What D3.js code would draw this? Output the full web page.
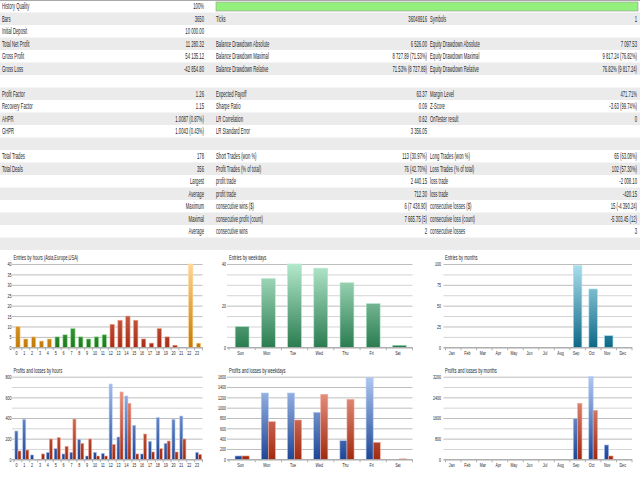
<!DOCTYPE html>
<html lang="en">
<head>
<meta charset="UTF-8" />
<title>Strategy Tester Report</title>
<style>
  body { margin: 0; background: #fff; overflow: hidden; }
  svg text { font-family: "Liberation Sans", Arial, sans-serif; fill: #262626; }
</style>
</head>
<body>
<svg id="report" width="640" height="480"></svg>
<script src="https://d3js.org/d3.v7.min.js"></script>
<script>
// report table, 3 label/value pairs per row
var tableRows = [
  ["History Quality", "100%", "", "", "", ""],
  ["Bars", "3650", "Ticks", "36048916", "Symbols", "1"],
  ["Initial Deposit", "10 000.00", "", "", "", ""],
  ["Total Net Profit", "11 280.32", "Balance Drawdown Absolute", "6 526.00", "Equity Drawdown Absolute", "7 097.53"],
  ["Gross Profit", "54 135.12", "Balance Drawdown Maximal", "8 727.89 (71.53%)", "Equity Drawdown Maximal", "9 817.24 (76.82%)"],
  ["Gross Loss", "-42 854.80", "Balance Drawdown Relative", "71.53% (8 727.89)", "Equity Drawdown Relative", "76.82% (9 817.24)"],
  ["", "", "", "", "", ""],
  ["Profit Factor", "1.26", "Expected Payoff", "63.37", "Margin Level", "471.71%"],
  ["Recovery Factor", "1.15", "Sharpe Ratio", "0.09", "Z-Score", "-3.63 (99.74%)"],
  ["AHPR", "1.0087 (0.87%)", "LR Correlation", "0.62", "OnTester result", "0"],
  ["GHPR", "1.0043 (0.43%)", "LR Standard Error", "3 356.05", "", ""],
  ["", "", "", "", "", ""],
  ["Total Trades", "178", "Short Trades (won %)", "113 (30.97%)", "Long Trades (won %)", "65 (63.08%)"],
  ["Total Deals", "356", "Profit Trades (% of total)", "76 (42.70%)", "Loss Trades (% of total)", "102 (57.30%)"],
  ["Largest", "", "profit trade", "2 440.15", "loss trade", "-2 008.10"],
  ["Average", "", "profit trade", "712.30", "loss trade", "-420.15"],
  ["Maximum", "", "consecutive wins ($)", "6 (7 438.90)", "consecutive losses ($)", "15 (-4 390.24)"],
  ["Maximal", "", "consecutive profit (count)", "7 665.75 (5)", "consecutive loss (count)", "-5 303.45 (12)"],
  ["Average", "", "consecutive wins", "2", "consecutive losses", "3"],
  ["", "", "", "", "", ""]
];
var historyQuality = 100;

var hourLabels = ["0","1","2","3","4","5","6","7","8","9","10","11","12","13","14","15","16","17","18","19","20","21","22","23"];
var hourSession = ["asia","asia","asia","asia","asia","europe","europe","europe","europe","europe","europe","europe",
  "usa","usa","usa","usa","usa","usa","usa","usa","usa","usa","asia","asia"];
var hourEntries = [10,4,5,3,4,5,6,9,5,4,5,6,11,13,15,13,4,2,9,5,1,0,40,2];
var hourProfits = [274,387,42,0,68,103,52,68,194,32,68,58,729,216,613,329,52,174,403,155,387,419,0,68];
var hourLosses = [81,90,0,52,197,210,126,390,155,197,32,32,145,652,542,52,245,71,103,177,71,197,0,48];

var dayLabels = ["Sun","Mon","Tue","Wed","Thu","Fri","Sat"];
var dayEntries = [10,33,40,38,31,21,1];
var dayProfits = [65,1284,1284,910,361,1580,0];
var dayLosses = [65,729,761,1258,1161,329,8];

var monthLabels = ["Jan","Feb","Mar","Apr","May","Jun","Jul","Aug","Sep","Oct","Nov","Dec"];
var monthEntries = [0,0,0,0,0,0,0,0,98,70,14,0];
var monthProfits = [0,0,0,0,0,0,0,0,1587,3200,555,0];
var monthLosses = [0,0,0,0,0,0,0,0,2168,1897,129,0];

// light top / dark bottom
var palette = {
  asia: ["#ffd796", "#c27a04"],
  europe: ["#98e098", "#1c7a1c"],
  usa: ["#f2a08e", "#a82c14"],
  week: ["#b4e8cc", "#2a7c50"],
  month: ["#ace0ee", "#0e6886"],
  profit: ["#b0c8f2", "#1d4696"],
  loss: ["#f4a898", "#a02a10"]
};

var svg = d3.select("#report");
var defs = svg.append("defs");

function txt(g, x, y, s, size, sx, anchor) {
  return g.append("text")
    .attr("transform", "translate(" + x + "," + y + ") scale(" + sx + ",1)")
    .attr("font-size", size)
    .attr("text-anchor", anchor || "start")
    .text(s);
}

// ---- table ----
var rowH = 12.5;
var colX = [2, 204, 216, 427, 430, 637];
var colAnchor = ["start", "end", "start", "end", "start", "end"];
var table = svg.append("g");

table.selectAll("rect.row")
  .data(tableRows)
  .join("rect")
  .attr("class", "row")
  .attr("x", 0)
  .attr("y", function (d, i) { return i * rowH; })
  .attr("width", 640)
  .attr("height", rowH)
  .attr("fill", function (d, i) { return i % 2 ? "#ebebeb" : "#fff"; });

table.append("line").attr("x1", 0).attr("x2", 640).attr("y1", 0.5).attr("y2", 0.5)
  .attr("stroke", "#a8a8a8");

var hq = d3.scaleLinear().domain([0, 100]).range([216, 638]);
table.append("rect")
  .attr("x", hq(0)).attr("y", 2)
  .attr("width", hq(historyQuality) - hq(0)).attr("height", 9)
  .attr("fill", "#93f07c").attr("stroke", "#9a9a9a").attr("stroke-width", 0.6);

tableRows.forEach(function (row, i) {
  var y = i * rowH + 9.3;
  row.forEach(function (cell, c) {
    if (!cell) return;
    var x = colX[c], anchor = colAnchor[c];
    if (c === 0 && row[1] === "") { x = 204; anchor = "end"; }
    txt(table, x, y, cell, 8.4, 0.5, anchor);
  });
});

// ---- charts ----
function barChart(cfg) {
  var g = svg.append("g");
  var y = d3.scaleLinear().domain([0, cfg.max]).range([cfg.bottom, cfg.top]);
  var x = d3.scaleBand().domain(cfg.cats).range([cfg.x0, cfg.x1]);
  var grid = d3.range(0, cfg.max + cfg.step / 2, cfg.step);

  // gradients in plot space, so short bars stay dark
  var used = {};
  cfg.series.forEach(function (s) {
    s.colors.forEach(function (k) { used[k] = true; });
  });
  Object.keys(used).forEach(function (k) {
    var lg = defs.append("linearGradient")
      .attr("id", cfg.id + "-" + k)
      .attr("gradientUnits", "userSpaceOnUse")
      .attr("x1", 0).attr("x2", 0).attr("y1", cfg.top).attr("y2", cfg.bottom);
    lg.append("stop").attr("offset", "0%").attr("stop-color", palette[k][0]);
    lg.append("stop").attr("offset", "100%").attr("stop-color", palette[k][1]);
  });

  // gridlines
  g.append("g")
    .attr("transform", "translate(" + cfg.x0 + ",0)")
    .call(d3.axisLeft(y).tickValues(grid).tickSize(-(cfg.x1 - cfg.x0 + 2)).tickFormat(""))
    .call(function (a) {
      a.select(".domain").remove();
      a.selectAll(".tick line")
        .attr("transform", "translate(-2,0)")
        .attr("stroke", function (d, i) { return i % cfg.labelEvery === 0 ? "#bdbdbd" : "#d4d4d4"; });
    });

  // y labels
  g.append("g")
    .attr("transform", "translate(" + cfg.labelX + ",0)")
    .call(d3.axisLeft(y).tickValues(grid.filter(function (d, i) { return i % cfg.labelEvery === 0; }))
      .tickSize(0).tickPadding(0).tickFormat(d3.format("d")))
    .call(function (a) {
      a.select(".domain").remove();
      a.selectAll("text")
        .attr("x", 0).attr("dy", "0.35em")
        .attr("font-size", 5.6)
        .attr("font-family", "Liberation Sans, Arial, sans-serif")
        .attr("fill", "#333")
        .attr("transform", "scale(0.65,1)");
    });

  // bars
  var inner = d3.scaleBand()
    .domain(d3.range(cfg.series.length))
    .range([0, x.bandwidth() * cfg.barRatio]);
  var off = (x.bandwidth() - x.bandwidth() * cfg.barRatio) / 2;
  cfg.series.forEach(function (s, si) {
    var pts = s.values.map(function (v, i) {
      return { cat: cfg.cats[i], v: v, color: s.colors[i] };
    }).filter(function (d) { return d.v > 0; });
    g.append("g").selectAll("rect")
      .data(pts)
      .join("rect")
      .attr("x", function (d) { return x(d.cat) + off + inner(si); })
      .attr("width", inner.bandwidth())
      .attr("y", function (d) { return y(d.v); })
      .attr("height", function (d) { return y(0) - y(d.v); })
      .attr("fill", function (d) { return "url(#" + cfg.id + "-" + d.color + ")"; })
      .attr("stroke", function (d) { return palette[d.color][0]; })
      .attr("stroke-width", 0.6);
  });

  // x axis
  var xa = g.append("g")
    .attr("transform", "translate(0," + cfg.bottom + ")")
    .call(d3.axisBottom(x).tickSize(0).tickPadding(0));
  xa.select(".domain").attr("stroke", "#a0a0a0").attr("d", "M" + (cfg.x0 - 2) + ",0.5H" + cfg.x1);
  xa.selectAll(".tick text")
    .attr("y", 0).attr("dy", cfg.labelDy)
    .attr("font-size", 5.6)
    .attr("font-family", "Liberation Sans, Arial, sans-serif")
    .attr("fill", "#333")
    .attr("transform", "translate(-1.5,0) scale(0.65,1)");
  xa.selectAll("line.sep")
    .data(d3.range(cfg.cats.length + 1))
    .join("line")
    .attr("class", "sep")
    .attr("x1", function (i) { return cfg.x0 + i * x.step(); })
    .attr("x2", function (i) { return cfg.x0 + i * x.step(); })
    .attr("y1", 0).attr("y2", 3)
    .attr("stroke", "#b0b0b0");

  txt(g, cfg.titleX, cfg.titleY, cfg.title, 7, 0.58, "start");
}

function one(values, colors) { return [{ values: values, colors: colors }]; }
function fill(n, k) { return d3.range(n).map(function () { return k; }); }

barChart({
  id: "c1", title: "Entries by hours (Asia,Europe,USA)", cats: hourLabels,
  x0: 14, x1: 202.5, top: 264, bottom: 347.3, max: 40, step: 5, labelEvery: 1,
  labelX: 11.5, labelDy: 8, titleX: 13.5, titleY: 259.5, barRatio: 0.55,
  series: one(hourEntries, hourSession)
});
barChart({
  id: "c2", title: "Entries by weekdays", cats: dayLabels,
  x0: 229, x1: 412.5, top: 264, bottom: 347.3, max: 40, step: 5, labelEvery: 4,
  labelX: 226, labelDy: 8, titleX: 229, titleY: 259.5, barRatio: 0.53,
  series: one(dayEntries, fill(7, "week"))
});
barChart({
  id: "c3", title: "Entries by months", cats: monthLabels,
  x0: 445.5, x1: 632, top: 264, bottom: 347.3, max: 100, step: 12.5, labelEvery: 2,
  labelX: 441, labelDy: 8, titleX: 445, titleY: 259.5, barRatio: 0.55,
  series: one(monthEntries, fill(12, "month"))
});
barChart({
  id: "c4", title: "Profits and losses by hours", cats: hourLabels,
  x0: 14, x1: 202.5, top: 376.7, bottom: 459.3, max: 800, step: 100, labelEvery: 2,
  labelX: 11.5, labelDy: 7.5, titleX: 13.5, titleY: 372.5, barRatio: 0.78,
  series: [{ values: hourProfits, colors: fill(24, "profit") }, { values: hourLosses, colors: fill(24, "loss") }]
});
barChart({
  id: "c5", title: "Profits and losses by weekdays", cats: dayLabels,
  x0: 229, x1: 412.5, top: 376.7, bottom: 459.3, max: 1600, step: 200, labelEvery: 1,
  labelX: 226, labelDy: 7.5, titleX: 229, titleY: 372.5, barRatio: 0.54,
  series: [{ values: dayProfits, colors: fill(7, "profit") }, { values: dayLosses, colors: fill(7, "loss") }]
});
barChart({
  id: "c6", title: "Profits and losses by months", cats: monthLabels,
  x0: 445.5, x1: 632, top: 376.7, bottom: 459.3, max: 3200, step: 400, labelEvery: 2,
  labelX: 441, labelDy: 7.5, titleX: 445, titleY: 372.5, barRatio: 0.56,
  series: [{ values: monthProfits, colors: fill(12, "profit") }, { values: monthLosses, colors: fill(12, "loss") }]
});
</script>
</body>
</html>
